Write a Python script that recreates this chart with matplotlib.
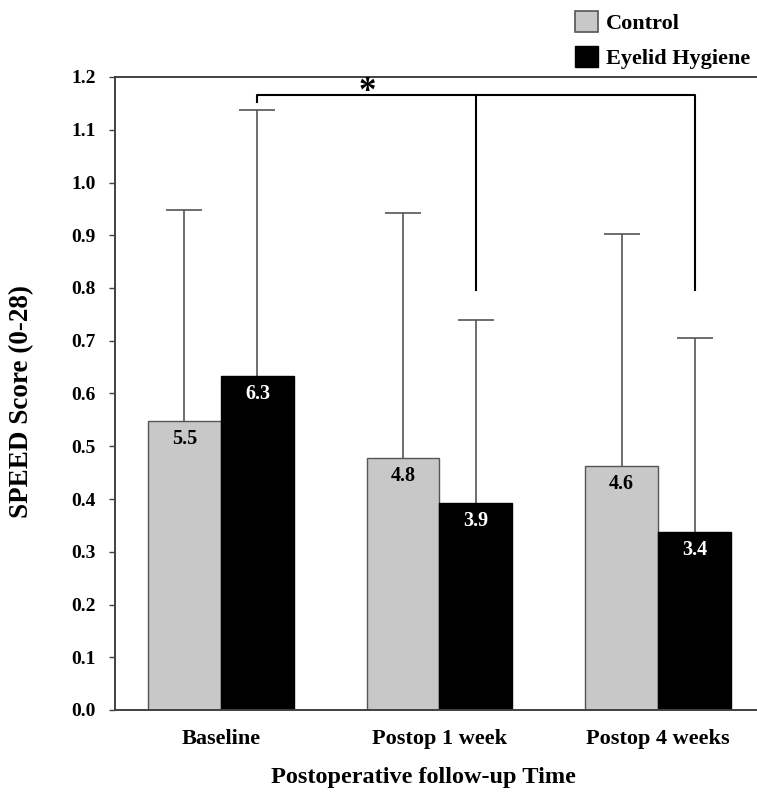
import matplotlib
matplotlib.use('Agg')
import matplotlib.pyplot as plt
from matplotlib.patches import Patch
import numpy as np

plt.rcParams['font.family'] = 'Liberation Serif'
plt.rcParams['font.weight'] = 'bold'

# values
groups = ['Baseline', 'Postop 1 week', 'Postop 4 weeks']
control = [0.548, 0.478, 0.462]
eyelid = [0.633, 0.392, 0.337]
control_err = [0.400, 0.465, 0.440]
eyelid_err = [0.504, 0.347, 0.369]
control_txt = ['5.5', '4.8', '4.6']
eyelid_txt = ['6.3', '3.9', '3.4']

# significance bracket
sig_y = 1.166
sig_tick = 1.153
sig_drop = 0.796
star_x, star_y = 0.668, 1.170

w = 0.334
x = np.arange(len(groups))

fig = plt.figure(figsize=(7.57, 8.0), dpi=100)
ax = fig.add_axes([0.1519, 0.1125, 0.8481, 0.79125])

grey_line = '#555555'
ax.bar(x - w/2, control, w, color='#c8c8c8', edgecolor=grey_line, linewidth=1.0, zorder=2)
ax.bar(x + w/2, eyelid, w, color='black', edgecolor='black', linewidth=1.0, zorder=2)

for xs, ys, es in [(x - w/2, control, control_err), (x + w/2, eyelid, eyelid_err)]:
    _, caps, _ = ax.errorbar(xs, ys, yerr=[np.zeros(3), es], fmt='none',
                             ecolor=grey_line, elinewidth=1.2, capsize=13,
                             capthick=1.2, zorder=1)
    caps[0].set_visible(False)   # no cap at the bar top

for i in range(len(groups)):
    ax.text(x[i] - w/2, control[i] - 0.034, control_txt[i], ha='center', va='center',
            fontsize=14.5, fontweight='bold', color='black', zorder=3)
    ax.text(x[i] + w/2, eyelid[i] - 0.034, eyelid_txt[i], ha='center', va='center',
            fontsize=14.5, fontweight='bold', color='white', zorder=3)

# bracket
x0, x1, x2 = x[0] + w/2, x[1] + w/2, x[2] + w/2
ax.plot([x0, x0, x2, x2], [sig_tick, sig_y, sig_y, sig_drop], color='black', lw=1.5, zorder=4)
ax.plot([x1, x1], [sig_y, sig_drop], color='black', lw=1.5, zorder=4)
ax.text(star_x, star_y, '*', ha='center', va='center', fontsize=25, fontweight='bold')

ax.set_xlim(-0.485, 2.453)
ax.set_ylim(0, 1.2)
ax.set_yticks(np.arange(0, 1.21, 0.1))
ax.set_yticklabels(['%.1f' % v for v in np.arange(0, 1.21, 0.1)], fontsize=14, fontweight='bold')
ax.set_xticks(x)
ax.set_xticklabels(groups, fontsize=16, fontweight='bold')
ax.tick_params(axis='x', length=0, pad=14)
ax.tick_params(axis='y', length=4, width=1, direction='out', pad=10, color='#404040')

for s in ['left', 'bottom', 'top']:
    ax.spines[s].set_color('#404040')
    ax.spines[s].set_linewidth(1.4)
ax.spines['right'].set_visible(False)

ax.set_ylabel('SPEED Score (0-28)', fontsize=19.5, fontweight='bold', va='center')
ax.yaxis.set_label_coords(-0.145, 0.488)
ax.set_xlabel('Postoperative follow-up Time', fontsize=17.5, fontweight='bold', va='center')
ax.xaxis.set_label_coords(0.481, -0.107)

handles = [Patch(facecolor='#c8c8c8', edgecolor=grey_line, linewidth=1.2),
           Patch(facecolor='black', edgecolor='black')]
fig.legend(handles, ['Control', 'Eyelid Hygiene'], loc='upper right',
           bbox_to_anchor=(750/757, 1 - 11/800), frameon=False, fontsize=16,
           handlelength=1.05, handleheight=1.05, handletextpad=0.35,
           labelspacing=0.55, borderpad=0, borderaxespad=0)

fig.savefig('out.png', dpi=100)
